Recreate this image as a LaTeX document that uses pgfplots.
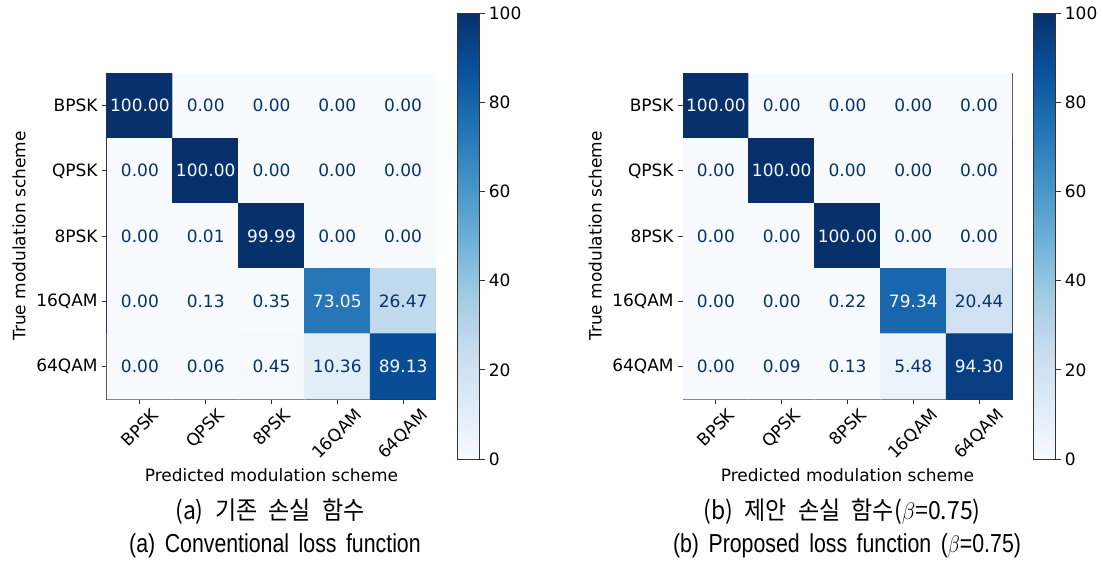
\documentclass[border=0pt]{standalone}
\usepackage{pgfplots}
\pgfplotsset{compat=1.18}
\usepackage{pgfplotstable}
\usepackage{graphicx}
\usepackage{fontspec}
\setmainfont{DejaVu Sans}
\newfontfamily\capfont[WordSpace=1.6]{Liberation Sans}
\newfontfamily\krfont[WordSpace=2.2]{Noto Sans CJK KR}

\definecolor{txtdark}{RGB}{8,48,107}
\definecolor{txtlight}{RGB}{247,251,255}
\definecolor{spine}{RGB}{50,50,50}

% confusion matrices: p = predicted class, t = true class (0 = BPSK ... 4 = 64QAM), v = percent
\pgfplotstableread{
p t v
0 0 100.00
1 0 0.00
2 0 0.00
3 0 0.00
4 0 0.00
0 1 0.00
1 1 100.00
2 1 0.00
3 1 0.00
4 1 0.00
0 2 0.00
1 2 0.01
2 2 99.99
3 2 0.00
4 2 0.00
0 3 0.00
1 3 0.13
2 3 0.35
3 3 73.05
4 3 26.47
0 4 0.00
1 4 0.06
2 4 0.45
3 4 10.36
4 4 89.13
}\conventional

\pgfplotstableread{
p t v
0 0 100.00
1 0 0.00
2 0 0.00
3 0 0.00
4 0 0.00
0 1 0.00
1 1 100.00
2 1 0.00
3 1 0.00
4 1 0.00
0 2 0.00
1 2 0.00
2 2 100.00
3 2 0.00
4 2 0.00
0 3 0.00
1 3 0.00
2 3 0.22
3 3 79.34
4 3 20.44
0 4 0.00
1 4 0.09
2 4 0.13
3 4 5.48
4 4 94.30
}\proposed

\newcommand\lbl{\fontsize{8.5}{10}\selectfont}

\pgfplotsset{
  colormap={blues}{rgb255=(247,251,255) rgb255=(222,235,247) rgb255=(198,219,239)
    rgb255=(158,202,225) rgb255=(107,174,214) rgb255=(66,146,198)
    rgb255=(33,113,181) rgb255=(8,81,156) rgb255=(8,48,107)},
  /pgf/number format/assume math mode=true,
  colorbar shift/.style={xshift=10.5pt, yshift=30pt},
  confmat/.style={
    scale only axis, width=164.5pt, height=163pt,
    anchor=south west,
    colormap name=blues,
    point meta min=0, point meta max=100,
    xmin=-0.5, xmax=4.5, ymin=-0.5, ymax=4.5,
    axis line style={spine, line width=0.5pt},
    tick style={spine, line width=0.5pt},
    tick align=outside, major tick length=2.5pt,
    xtick pos=left, ytick pos=left,
    xtick={0,...,4}, ytick={0,...,4},
    xticklabels={\rotatebox{45}{BPSK},\rotatebox{45}{QPSK},\rotatebox{45}{8PSK},
      \rotatebox{45}{16QAM},\rotatebox{45}{64QAM}},
    yticklabels={64QAM,16QAM,8PSK,QPSK,BPSK},
    xticklabel style={anchor=north, inner sep=1.5pt},
    yticklabel style={inner sep=2pt},
    tick label style={font=\lbl},
    label style={font=\lbl},
    xlabel={Predicted modulation scheme},
    ylabel={True modulation scheme},
    xlabel style={at={(axis description cs:0.5,-0.233)}, anchor=center},
    ylabel style={at={(axis description cs:-0.267,0.5)}, anchor=center},
    colorbar,
    colorbar style={
      scale only axis, width=11pt, height=223pt,
      ymin=0, ymax=100, ytick={0,20,...,100},
      ytick pos=right, yticklabel pos=right,
      tick align=outside, major tick length=2.5pt,
      axis line style={spine, line width=0.5pt},
      tick style={spine, line width=0.5pt},
      yticklabel style={font=\lbl, inner sep=2pt},
    },
  },
  cellval/.style={
    draw=none, mark=none, point meta=explicit,
    nodes near coords={\pgfmathprintnumber[fixed,zerofill,precision=2]{\pgfplotspointmeta}},
    every node near coord/.append style={anchor=center, font=\lbl, text=#1},
  },
}

\begin{document}
\begin{tikzpicture}
\path (0,0) rectangle (551.5pt,281pt);

% (a) conventional loss
\begin{axis}[confmat, at={(53.5pt,81.5pt)}]
  \addplot[matrix plot*, mesh/cols=5, point meta=explicit]
    table[x=p, y expr=4-\thisrow{t}, meta=v] {\conventional};
  \addplot[cellval=txtdark, restrict expr to domain={\thisrow{v}}{-1:49.99}]
    table[x=p, y expr=4-\thisrow{t}, meta=v] {\conventional};
  \addplot[cellval=txtlight, restrict expr to domain={\thisrow{v}}{50:101}]
    table[x=p, y expr=4-\thisrow{t}, meta=v] {\conventional};
\end{axis}

% (b) proposed loss
\begin{axis}[confmat, at={(341.5pt,81.5pt)}]
  \addplot[matrix plot*, mesh/cols=5, point meta=explicit]
    table[x=p, y expr=4-\thisrow{t}, meta=v] {\proposed};
  \addplot[cellval=txtdark, restrict expr to domain={\thisrow{v}}{-1:49.99}]
    table[x=p, y expr=4-\thisrow{t}, meta=v] {\proposed};
  \addplot[cellval=txtlight, restrict expr to domain={\thisrow{v}}{50:101}]
    table[x=p, y expr=4-\thisrow{t}, meta=v] {\proposed};
\end{axis}

% sub-captions
\node at (135pt,25pt) {\scalebox{0.92}[1]{\krfont\fontsize{12.5}{14}\selectfont (a) 기존 손실 함수}};
\node at (137.5pt,8pt) {\scalebox{0.82}[1]{\capfont\fontsize{13}{15}\selectfont (a) Conventional loss function}};
\node at (421pt,25pt) {\scalebox{0.92}[1]{\krfont\fontsize{12.5}{14}\selectfont (b) 제안 손실 함수($\beta$=0.75)}};
\node at (423.5pt,8pt) {\scalebox{0.82}[1]{\capfont\fontsize{13}{15}\selectfont (b) Proposed loss function ($\beta$=0.75)}};
\end{tikzpicture}
\end{document}
